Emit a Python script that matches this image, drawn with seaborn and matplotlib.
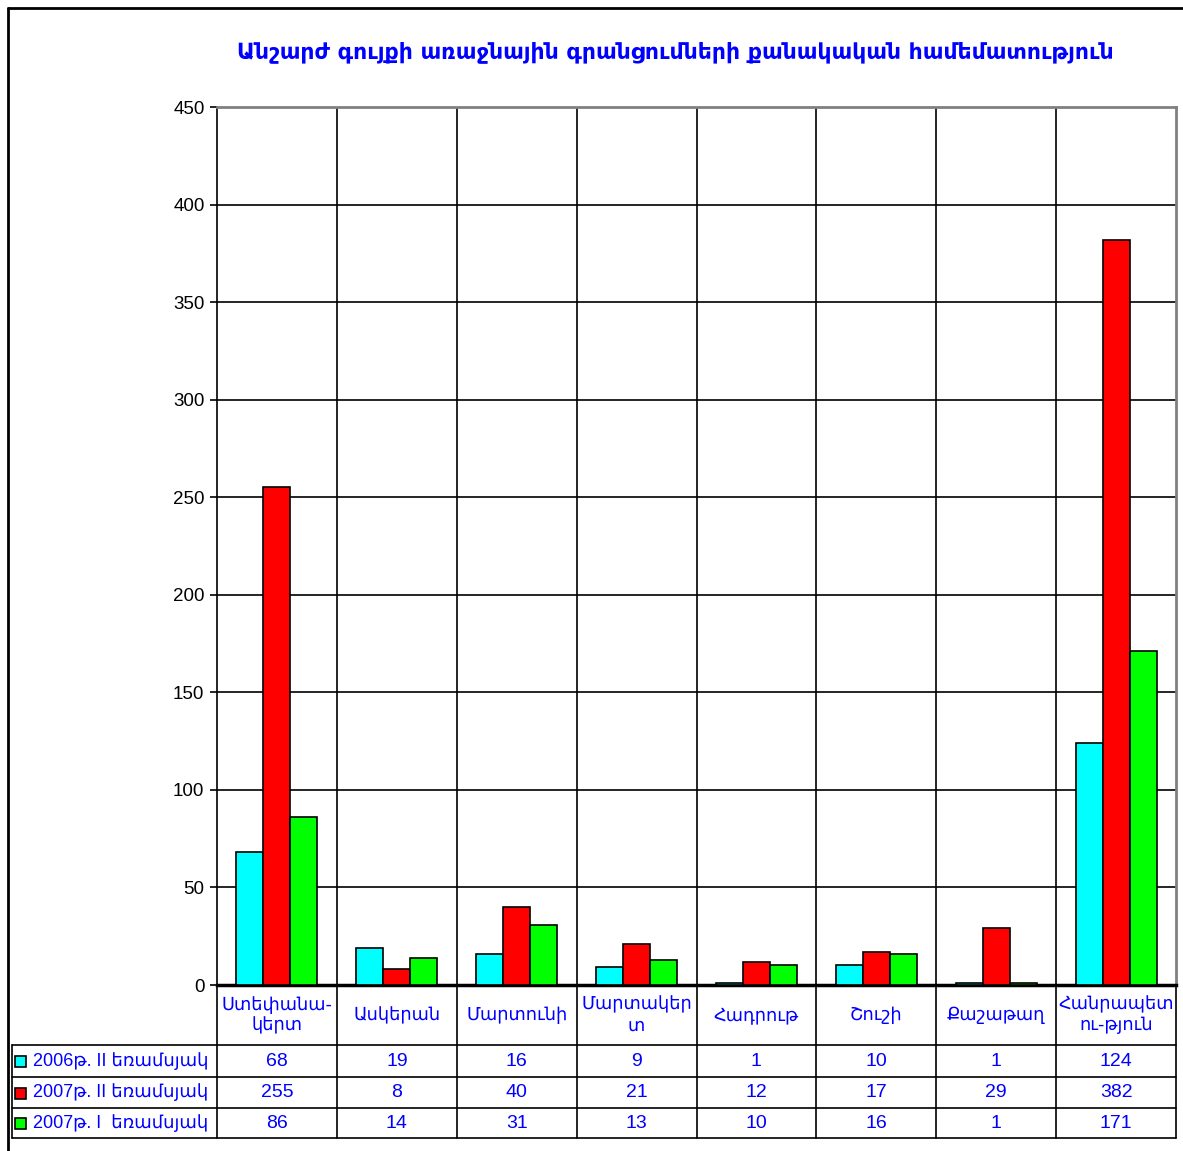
import matplotlib
matplotlib.use("Agg")
import matplotlib.pyplot as plt
from matplotlib.lines import Line2D
from matplotlib.patches import Rectangle
import seaborn as sns
import pandas as pd

# Districts (table header labels, wrapped as in the table)
districts = ["Ստեփանա-\nկերտ", "Ասկերան", "Մարտունի", "Մարտակեր\nտ",
             "Հադրութ", "Շուշի", "Քաշաթաղ", "Հանրապետ\nու-թյուն"]
periods = ["2006թ. II եռամսյակ", "2007թ. II եռամսյակ", "2007թ. I  եռամսյակ"]
q2_2006 = [68, 19, 16, 9, 1, 10, 1, 124]
q2_2007 = [255, 8, 40, 21, 12, 17, 29, 382]
q1_2007 = [86, 14, 31, 13, 10, 16, 1, 171]
colors = ["#00FFFF", "#FF0000", "#00FF00"]
title = "Անշարժ գույքի առաջնային գրանցումների քանակական համեմատություն"
yticks = [0, 50, 100, 150, 200, 250, 300, 350, 400, 450]

series = [q2_2006, q2_2007, q1_2007]
df = pd.DataFrame({
    "district": [d for _ in periods for d in districts],
    "period": [p for p in periods for _ in districts],
    "value": [v for s in series for v in s],
})

sns.set_theme(style="white")
plt.rcParams["font.family"] = ["Liberation Sans", "DejaVu Sans"]

W, H = 1183, 1151
fig = plt.figure(figsize=(W / 100, H / 100), dpi=100)


def fx(px):
    return px / W


def fy(py):
    return 1 - py / H


L, R, T, B = 217, 1176, 107, 985
ax = fig.add_axes([fx(L), fy(B), (R - L) / W, (B - T) / H])

sns.barplot(data=df, x="district", y="value", hue="period", order=districts,
            hue_order=periods, palette=colors, saturation=1, width=0.675,
            edgecolor="black", linewidth=1.2, legend=False, ax=ax, zorder=3)

ax.set_xlim(-0.5, len(districts) - 0.5)
ax.set_ylim(0, 450)
ax.set_yticks(yticks)
ax.set_yticklabels([str(v) for v in yticks], fontsize=13.5, color="black")
ax.set_xticks([])
ax.set_xlabel("")
ax.set_ylabel("")
for v in yticks[1:]:
    ax.axhline(v, color="black", lw=1.2, zorder=1)
for i in range(1, len(districts)):
    ax.axvline(i - 0.5, color="black", lw=1.2, zorder=1)
ax.tick_params(axis="y", direction="out", length=5, width=1.2, color="black", left=True, pad=4)
ax.spines["left"].set_color("black")
ax.spines["left"].set_linewidth(1.2)
ax.spines["bottom"].set_color("black")
ax.spines["bottom"].set_linewidth(2.5)
ax.spines["top"].set_color("#808080")
ax.spines["right"].set_color("#808080")
ax.spines["top"].set_linewidth(2)
ax.spines["right"].set_linewidth(2)

fig.text(fx(675), fy(52), title, ha="center", va="center", color="#0000FF",
         fontsize=15.8, fontweight="bold", family=["DejaVu Sans"])


def hline(x0, x1, y, lw=1.2, color="black"):
    fig.add_artist(Line2D([fx(x0), fx(x1)], [fy(y), fy(y)], color=color, lw=lw))


def vline(x, y0, y1, lw=1.2, color="black"):
    fig.add_artist(Line2D([fx(x), fx(x)], [fy(y0), fy(y1)], color=color, lw=lw))


# Data table below the chart
col_w = (R - L) / len(districts)
rows = [1045, 1077, 1108, 1138]
for i in range(len(districts) + 1):
    vline(L + i * col_w, B, rows[-1])
for y in rows:
    hline(12, R, y)
vline(12, rows[0], rows[-1])

blue = "#0000FF"
for i, name in enumerate(districts):
    cx = L + (i + 0.5) * col_w
    fig.text(fx(cx), fy((B + rows[0]) / 2), name, ha="center", va="center",
             color=blue, fontsize=12.8, linespacing=1.2, family=["DejaVu Sans"])
    for r, s in enumerate(series):
        cy = (rows[r] + rows[r + 1]) / 2
        fig.text(fx(cx), fy(cy), str(s[i]), ha="center", va="center",
                 color=blue, fontsize=14)

for r, label in enumerate(periods):
    cy = (rows[r] + rows[r + 1]) / 2
    fig.add_artist(Rectangle((fx(15), fy(cy + 6)), 11 / W, 11 / H,
                             facecolor=colors[r], edgecolor="black", lw=1.2))
    fig.text(fx(33), fy(cy), label, ha="left", va="center", color=blue,
             fontsize=13, family=["Liberation Sans", "DejaVu Sans"])

# Outer frame
hline(8, W, 8, lw=2)
vline(8, 8, H, lw=2)

fig.savefig("out.png", dpi=100)
